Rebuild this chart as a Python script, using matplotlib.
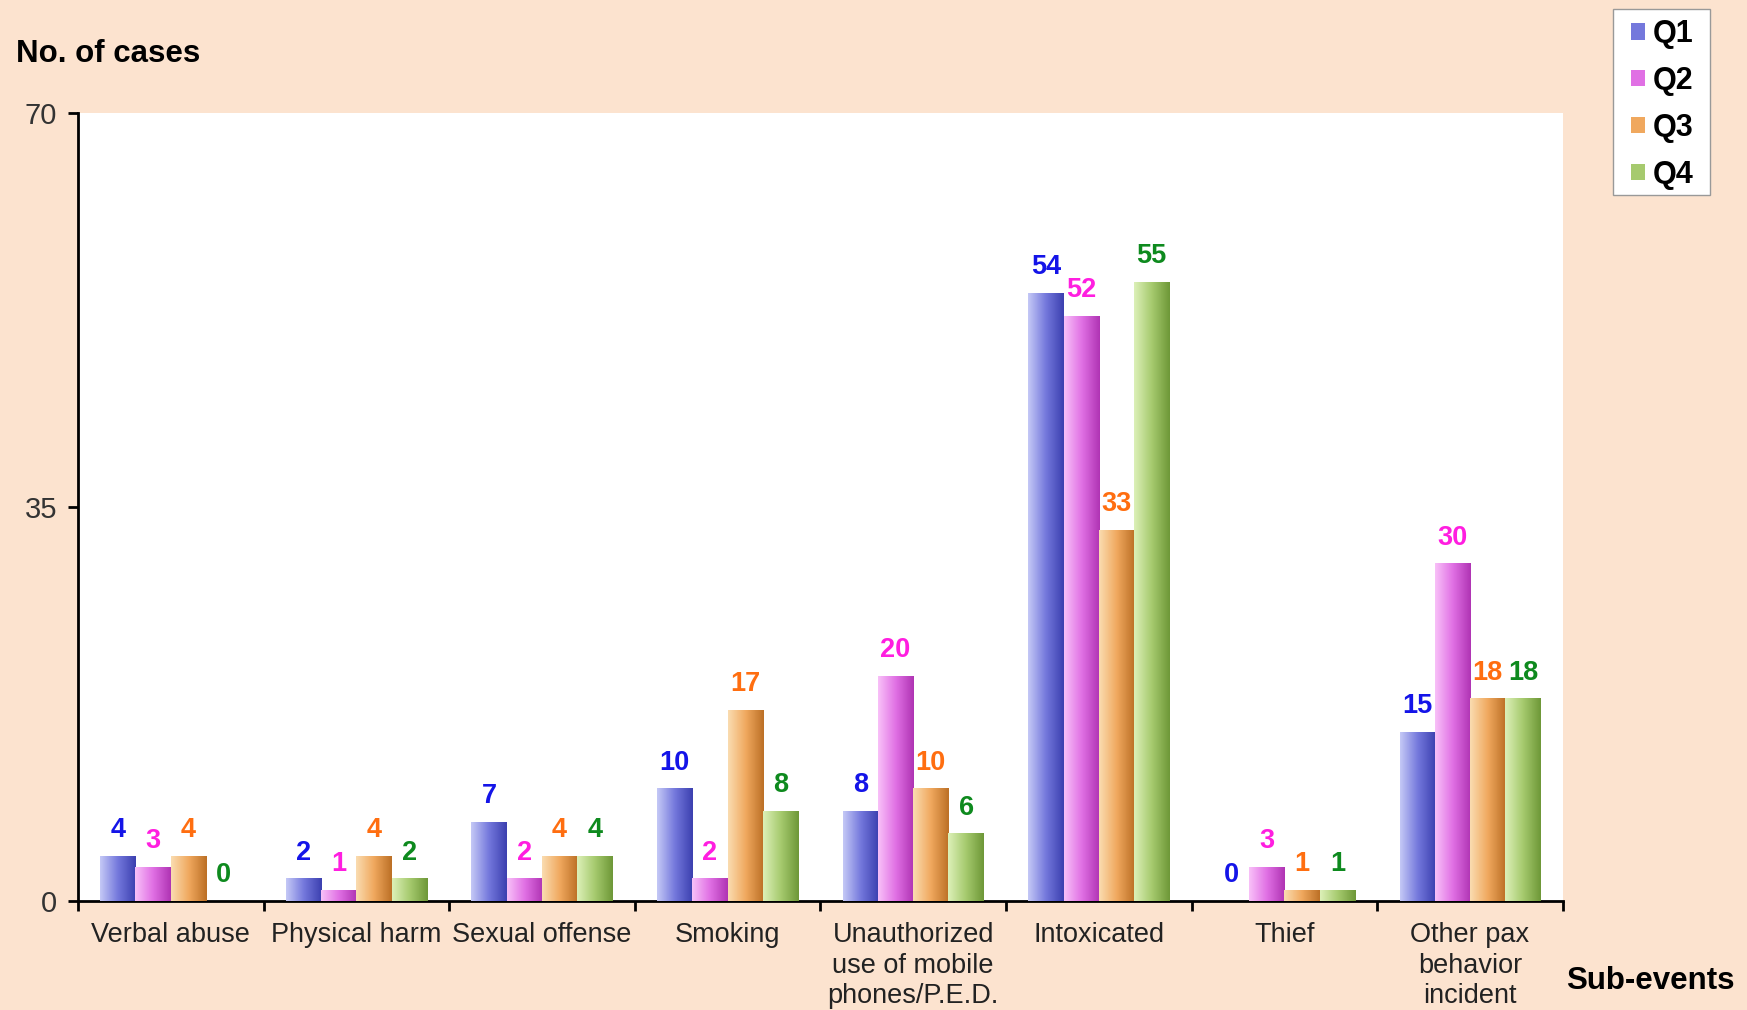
import numpy as np
import matplotlib
matplotlib.use("Agg")
import matplotlib.pyplot as plt
from matplotlib.colors import LinearSegmentedColormap
from matplotlib.patches import Rectangle

plt.rcParams['font.family'] = ['Liberation Sans', 'DejaVu Sans']

categories = ["Verbal abuse", "Physical harm", "Sexual offense", "Smoking",
              "Unauthorized\nuse of mobile\nphones/P.E.D.", "Intoxicated", "Thief",
              "Other pax\nbehavior\nincident"]
series_names = ["Q1", "Q2", "Q3", "Q4"]
q1 = [4, 2, 7, 10, 8, 54, 0, 15]
q2 = [3, 1, 2, 2, 20, 52, 3, 30]
q3 = [4, 4, 4, 17, 10, 33, 1, 18]
q4 = [0, 2, 4, 8, 6, 55, 1, 18]
yticks = [0, 35, 70]

series = [q1, q2, q3, q4]
base_colors = ["#7478dc", "#e070e4", "#f0a85e", "#a6ca6e"]
light_colors = ["#c4c8f6", "#f8c0f8", "#fadcb0", "#dcf0b8"]
dark_colors = ["#3c40b0", "#b034b4", "#bc7026", "#6e9838"]
label_colors = ["#1414e8", "#ff1ee0", "#ff6e10", "#0e8a1e"]

fig = plt.figure(figsize=(17.47, 10.10), dpi=100)
fig.patch.set_facecolor("#fce3cf")
ax = fig.add_axes([0.0446, 0.108, 0.850, 0.780])
ax.set_facecolor("white")

n = len(categories)
x = np.arange(n)
w = 0.19
for i, vals in enumerate(series):
    pos = x - 1.5 * w + i * w
    bars = ax.bar(pos, vals, width=w, color=base_colors[i], label=series_names[i],
                  edgecolor="none", zorder=2)
    cmap = LinearSegmentedColormap.from_list(
        "c%d" % i, [light_colors[i], base_colors[i], dark_colors[i]])
    grad = np.linspace(0, 1, 64).reshape(1, -1)
    for b, v in zip(bars, vals):
        if v <= 0:
            continue
        x0, y0 = b.get_x(), b.get_y()
        bw, bh = b.get_width(), b.get_height()
        im = ax.imshow(grad, cmap=cmap, extent=[x0, x0 + bw, y0, y0 + bh],
                       aspect="auto", zorder=3, interpolation="bicubic")
        im.set_clip_path(b)
    for p, v in zip(pos, vals):
        ax.annotate(str(v), (p, v), xytext=(0, 13.5), textcoords="offset points",
                    ha="center", va="baseline", fontsize=19.5, fontweight="bold",
                    color=label_colors[i], zorder=5)

ax.set_xlim(-0.5, n - 0.5)
ax.set_ylim(0, 70)
ax.set_yticks(yticks)
ax.set_yticklabels([str(t) for t in yticks], fontsize=21, color="#333333")
ax.set_xticks(np.arange(n + 1) - 0.5)
ax.set_xticklabels([""] * (n + 1))
ax.set_xticks(x, minor=True)
ax.set_xticklabels(categories, minor=True, fontsize=19.5, color="#222222",
                   linespacing=1.22)
ax.tick_params(axis="x", which="minor", length=0, pad=15.5)
ax.tick_params(axis="x", which="major", length=7, width=2, direction="out")
ax.tick_params(axis="y", length=7, width=2, direction="out", pad=8)
for s in ["top", "right"]:
    ax.spines[s].set_visible(False)
for s in ["left", "bottom"]:
    ax.spines[s].set_linewidth(2)
ax.set_xlim(-0.5, n - 0.5)

fig.text(0.009, 0.947, "No. of cases", fontsize=22.5, fontweight="bold",
         ha="left", va="center")
fig.text(0.993, 0.029, "Sub-events", fontsize=22.5, fontweight="bold",
         ha="right", va="center")

# legend frame
fig.patches.append(Rectangle((0.9233, 0.807), 0.0555, 0.184, transform=fig.transFigure,
                             facecolor="white", edgecolor="#999999", linewidth=1,
                             zorder=1))
leg = fig.legend(loc="upper right", bbox_to_anchor=(0.979, 0.9976),
                 prop={"size": 22, "weight": "bold"}, handlelength=0.45,
                 handleheight=0.45, handletextpad=0.25, labelspacing=0.55,
                 borderpad=0.55, borderaxespad=0, frameon=False)
leg.set_zorder(5)

fig.savefig("out.png", dpi=100, facecolor=fig.get_facecolor())
